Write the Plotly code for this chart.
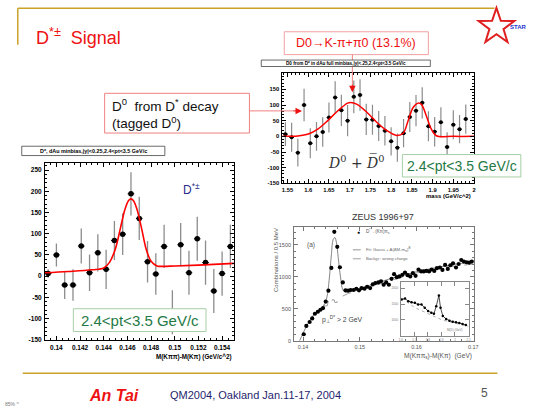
import math
import plotly.graph_objects as go

# ---------------- data ----------------
# D* (left plot)
ds_x = [0.1393, 0.1400, 0.1407, 0.1414, 0.1421, 0.1428, 0.1435, 0.1442, 0.1449, 0.1456, 0.1463, 0.1470,
        0.1477, 0.1484, 0.1491, 0.1498, 0.1505, 0.1512, 0.1519, 0.1526, 0.1533, 0.1540, 0.1547]
ds_y = [6, 50, -21, -21, 71, 8, 55, 16, 84, 99, 194, 136, 34, 5, 70, -85, 74, 8, 88, 32, -35, 6, 70]
ds_err = [10, 27, 33, 37, 41, 43, 44, 46, 46, 49, 51, 51, 49, 49, 51, 52, 51, 52, 52, 52, 52, 52, 51]
ds_fit_x = [0.13903, 0.1410, 0.1430, 0.1440, 0.1445, 0.1450, 0.1454, 0.1458, 0.1461, 0.1463, 0.1465,
            0.1468, 0.1472, 0.1476, 0.1480, 0.1485, 0.1490, 0.1500, 0.1520, 0.1550]
ds_fit_y = [8, 11, 15, 19, 33, 66, 112, 158, 178, 182, 178, 158, 112, 62, 35, 24, 23, 24, 26, 30]
ds_xticks = [0.14, 0.142, 0.144, 0.146, 0.148, 0.15, 0.152, 0.154]
ds_xticklabels = ["0.14", "0.142", "0.144", "0.146", "0.148", "0.15", "0.152", "0.154"]
ds_yticks = [-150, -100, -50, 0, 50, 100, 150, 200, 250]
ds_yticklabels = ["-150", "-100", "-50", "0", "50", "100", "150", "200", "250"]

# D0 (top right plot)
d0_x = [1.545, 1.56, 1.575, 1.59, 1.605, 1.62, 1.635, 1.65, 1.665, 1.68, 1.695, 1.71, 1.725, 1.74, 1.755,
        1.77, 1.785, 1.80, 1.815, 1.83, 1.845, 1.86, 1.875, 1.89, 1.905, 1.92, 1.935, 1.95, 1.965, 1.98]
d0_y = [7, -3, -52, 100, -22, 0, 14, 60, 124, 83, 50, 126, 132, 54, 53, 33, 18, -16, -36, 10, 62, 82,
        107, 32, 15, 45, -34, 37, 23, 55]
d0_err = [38, 46, 44, 52, 48, 46, 47, 48, 52, 50, 50, 52, 50, 50, 48, 48, 47, 45, 45, 45, 48, 50, 50,
          48, 47, 48, 47, 46, 45, 47]
d0_fit_x = [1.5375, 1.575, 1.59, 1.605, 1.623, 1.647, 1.671, 1.695, 1.702, 1.718, 1.742, 1.766, 1.79,
            1.8135, 1.829, 1.841, 1.853, 1.865, 1.873, 1.885, 1.897, 1.909, 1.95, 2.0]
d0_fit_y = [0, 1, 4, 10, 23, 50, 81, 106, 108, 102, 76, 44, 18, 3, 10, 50, 92, 106, 102, 65, 23, 2, 0, 0]
d0_xticks = [1.55, 1.6, 1.65, 1.7, 1.75, 1.8, 1.85, 1.9, 1.95, 2.0]
d0_xticklabels = ["1.55", "1.6", "1.65", "1.7", "1.75", "1.8", "1.85", "1.9", "1.95", "2"]
d0_yticks = [-150, -100, -50, 0, 50, 100, 150]
d0_yticklabels = ["-150", "-100", "-50", "0", "50", "100", "150"]

# ZEUS (bottom right plot)
zeus_x = [0.14012, 0.14058, 0.14116, 0.14162, 0.14209, 0.14261, 0.14307, 0.14353, 0.1440, 0.14447,
          0.14499, 0.14551, 0.14603, 0.14649, 0.14701, 0.14748, 0.14795, 0.1484, 0.14892, 0.14939,
          0.14986, 0.15031, 0.15083, 0.1513, 0.15183, 0.15229, 0.15275, 0.15327, 0.15374, 0.15421,
          0.15466, 0.15513, 0.1556, 0.15605, 0.15652, 0.15699, 0.15751, 0.15797, 0.15843, 0.1589,
          0.15936, 0.15983, 0.16035, 0.16082, 0.16127, 0.16174, 0.16221, 0.16266, 0.16313, 0.1636,
          0.16412, 0.16457, 0.16504, 0.16551, 0.16597, 0.16643, 0.16696, 0.16742, 0.16788, 0.16835,
          0.16882, 0.16927, 0.16974]
zeus_y = [102, 232, 294, 350, 423, 454, 485, 511, 613, 783, 1140, 1703, 1470, 1150, 913, 789, 783, 794,
          794, 814, 789, 825, 814, 845, 825, 882, 902, 913, 929, 876, 913, 876, 969, 1041, 995, 1006,
          1031, 1068, 1026, 1006, 1057, 1015, 1115, 1084, 1084, 1093, 1084, 1115, 1093, 1135, 1146,
          1108, 1186, 1124, 1181, 1212, 1146, 1201, 1263, 1238, 1228, 1223, 1238]
zfit_x = [0.1394, 0.1400, 0.1410, 0.1420, 0.1430, 0.1437, 0.1442, 0.1446, 0.1450, 0.1453, 0.1456,
          0.1459, 0.1462, 0.1466, 0.1470, 0.1475, 0.1480, 0.1500, 0.1550, 0.1600, 0.1650, 0.1700]
zfit_y = [0, 120, 290, 420, 500, 560, 680, 950, 1350, 1580, 1615, 1530, 1300, 1000, 800, 760, 770, 820,
          960, 1080, 1170, 1240]
zbg_x = [0.1436, 0.1440, 0.1443, 0.1444, 0.1447, 0.1447, 0.1450, 0.1451, 0.1455, 0.1456, 0.1460,
         0.1461, 0.1466, 0.1470, 0.1480, 0.1500, 0.1550, 0.1600, 0.1650, 0.1700]
zbg_y = [560, 545, 550, 610, 610, 570, 570, 640, 640, 600, 600, 680, 690, 700, 740, 790, 930, 1060,
         1150, 1200]
zeus_xticks = [0.14, 0.15, 0.16, 0.17]
zeus_xticklabels = ["0.14", "0.15", "0.16", "0.17"]
zeus_yticks = [0, 500, 1000, 1500]
zeus_yticklabels = ["0", "500", "1000", "1500"]

# ZEUS inset
ins_x = [1.607, 1.6315, 1.656, 1.68, 1.7045, 1.7285, 1.753, 1.777, 1.8015, 1.8255, 1.845, 1.862,
         1.8815, 1.8935, 1.9105, 1.935, 1.959, 1.9835, 2.0075, 2.032, 2.056, 2.0805]
ins_y = [1646, 1676, 1593, 1562, 1542, 1491, 1491, 1386, 1282, 1231, 1197, 1435, 1775, 1384, 1129,
         1027, 976, 942, 925, 908, 874, 840]
ins_bg_x = [1.607, 1.65, 1.70, 1.75, 1.80, 1.85, 1.90, 1.95, 2.0, 2.05, 2.1]
ins_bg_y = [1690, 1550, 1400, 1300, 1200, 1100, 1010, 950, 900, 850, 800]
ins_xticks = [1.6, 1.7, 1.8, 1.9, 2.0, 2.1]
ins_xticklabels = ["1.6", "1.7", "1.8", "1.9", "2", "2.1"]
ins_yticks = [1000, 1500, 2000]
ins_yticklabels = ["1000", "1500", "2000"]

# ---------------- layout helpers ----------------
W, H = 536, 410
def px(x):
    return x / W
def py(y):
    return 1 - y / H

SANS = "Liberation Sans, Arial, sans-serif"
RED = "#EE1111"
GREEN = "#1F7A45"
GOLD = "#C9A227"
GRAY_ERR = "#8C8C8C"

fig = go.Figure()

# D* plot
fig.add_trace(go.Scatter(
    x=ds_x, y=ds_y, mode="markers", xaxis="x", yaxis="y",
    marker=dict(color="black", size=5.5),
    error_y=dict(type="data", array=ds_err, color=GRAY_ERR, thickness=1.3, width=0),
    error_x=dict(type="constant", value=0.00028, color="black", thickness=1, width=0),
    showlegend=False))
fig.add_trace(go.Scatter(
    x=ds_fit_x, y=ds_fit_y, mode="lines", xaxis="x", yaxis="y", line_shape="spline",
    line=dict(color="red", width=1.6), showlegend=False))

# D0 plot
fig.add_trace(go.Scatter(
    x=d0_x, y=d0_y, mode="markers", xaxis="x2", yaxis="y2",
    marker=dict(color="black", size=4),
    error_y=dict(type="data", array=d0_err, color=GRAY_ERR, thickness=1.2, width=0),
    error_x=dict(type="constant", value=0.0055, color="black", thickness=1, width=0),
    showlegend=False))
fig.add_trace(go.Scatter(
    x=d0_fit_x, y=d0_fit_y, mode="lines", xaxis="x2", yaxis="y2", line_shape="spline",
    line=dict(color="red", width=1.5), showlegend=False))

# ZEUS plot
fig.add_trace(go.Scatter(
    x=zbg_x, y=zbg_y, mode="lines", xaxis="x3", yaxis="y3",
    line=dict(color="#888888", width=0.8, dash="dash"), showlegend=False))
fig.add_trace(go.Scatter(
    x=zfit_x, y=zfit_y, mode="lines", xaxis="x3", yaxis="y3", line_shape="spline",
    line=dict(color="#777777", width=0.9), showlegend=False))
fig.add_trace(go.Scatter(
    x=zeus_x, y=zeus_y, mode="markers", xaxis="x3", yaxis="y3",
    marker=dict(color="black", size=4.2), showlegend=False))

# Inset
fig.add_trace(go.Scatter(
    x=ins_bg_x, y=ins_bg_y, mode="lines", xaxis="x4", yaxis="y4",
    line=dict(color="#999999", width=0.8, dash="dot"), showlegend=False))
fig.add_trace(go.Scatter(
    x=ins_x, y=ins_y, mode="lines+markers", xaxis="x4", yaxis="y4",
    line=dict(color="black", width=0.7), marker=dict(color="black", size=2.5), showlegend=False))


def root_axes(size=6.5, color="black", bold=True, linecolor="black", minor_dtick=None):
    d = dict(showline=True, linecolor=linecolor, linewidth=1, mirror="allticks",
             ticks="inside", ticklen=4, tickcolor=linecolor, tickwidth=1,
             showgrid=False, zeroline=False, tickmode="array", ticklabelstandoff=1,
             tickfont=dict(family=SANS, size=size, color=color, weight=700 if bold else 400))
    if minor_dtick is not None:
        d["minor"] = dict(ticks="inside", ticklen=2, tickcolor=linecolor, dtick=minor_dtick, showgrid=False)
    return d


fig.update_layout(
    width=W, height=H, margin=dict(l=0, r=0, t=0, b=0),
    paper_bgcolor="white", plot_bgcolor="rgba(0,0,0,0)",
    xaxis=dict(domain=[px(43.5), px(235)], range=[0.13903, 0.155], anchor="y",
               tickvals=ds_xticks, ticktext=ds_xticklabels,
               **root_axes(size=6.5, minor_dtick=0.0005)),
    yaxis=dict(domain=[py(342.3), py(164.3)], range=[-150, 266.4], anchor="x",
               tickvals=ds_yticks, ticktext=ds_yticklabels,
               **root_axes(size=6.5, minor_dtick=10)),
    xaxis2=dict(domain=[px(284), px(478.3)], range=[1.5375, 2.0], anchor="y2",
                tickvals=d0_xticks, ticktext=d0_xticklabels,
                **root_axes(size=5.8, minor_dtick=0.01)),
    yaxis2=dict(domain=[py(184.7), py(74)], range=[-150, 200.7], anchor="x2",
                tickvals=d0_yticks, ticktext=d0_yticklabels,
                **root_axes(size=5.8, minor_dtick=10)),
    xaxis3=dict(domain=[px(296), px(478.3)], range=[0.13843, 0.17014], anchor="y3",
                tickvals=zeus_xticks, ticktext=zeus_xticklabels,
                **root_axes(size=5.5, color="#555555", bold=False, linecolor="#777777", minor_dtick=0.002)),
    yaxis3=dict(domain=[py(343.3), py(228.3)], range=[0, 1785], anchor="x3",
                tickvals=zeus_yticks, ticktext=zeus_yticklabels,
                **root_axes(size=5.5, color="#555555", bold=False, linecolor="#777777", minor_dtick=100)),
    xaxis4=dict(domain=[px(404), px(472.7)], range=[1.6, 2.1], anchor="y4",
                tickvals=ins_xticks, ticktext=ins_xticklabels,
                **root_axes(size=3, color="#777777", bold=False, linecolor="#888888")),
    yaxis4=dict(domain=[py(338.3), py(284)], range=[500, 2200], anchor="x4",
                tickvals=ins_yticks, ticktext=ins_yticklabels,
                **root_axes(size=3, color="#777777", bold=False, linecolor="#888888")),
)

shapes = []
def line(x0, y0, x1, y1, color, width=1, dash=None, layer="above"):
    ld = dict(color=color, width=width)
    if dash:
        ld["dash"] = dash
    shapes.append(dict(type="line", xref="paper", yref="paper", x0=px(x0), y0=py(y0), x1=px(x1), y1=py(y1),
                       line=ld, layer=layer))
def rect(x0, y0, x1, y1, color, width=1, fill="white", layer="above"):
    shapes.append(dict(type="rect", xref="paper", yref="paper", x0=px(x0), y0=py(y0), x1=px(x1), y1=py(y1),
                       line=dict(color=color, width=width), fillcolor=fill, layer=layer))

# slide frame lines
line(16, 8.3, 499, 8.3, GOLD, 1.5)
line(16, 8.3, 16, 45, GOLD, 1.5)
line(21, 376, 502, 376, GOLD, 1.5)

# star
cx, cy, ro, ri = 501, 27, 19, 7.5
pts = []
for k in range(10):
    ang = math.pi / 2 + k * math.pi / 5
    r = ro if k % 2 == 0 else ri
    pts.append((cx + r * math.cos(ang), cy - r * math.sin(ang)))
path = "M " + " L ".join(f"{px(a):.5f},{py(b):.5f}" for a, b in pts) + " Z"
shapes.append(dict(type="path", xref="paper", yref="paper", path=path,
                   line=dict(color="#E02020", width=2), fillcolor="white", layer="above"))

# callout boxes
rect(286, 32, 432, 55, "#F2A0A0", 1)
line(355, 55, 355, 86, "#F08080", 1)
rect(104, 94, 250.7, 134, "#F08080", 1)
line(250.7, 111.7, 296, 111.7, "#F08080", 1)

# ROOT title boxes
rect(20, 147.3, 165, 156.7, "#444444", 0.8)
rect(262.7, 60.5, 434, 67, "#444444", 0.8)

# green pt boxes
rect(72.3, 311, 206.7, 334, "#A6CFA6", 1)
rect(405.7, 155.7, 525.7, 178.3, "#A6CFA6", 1)

# ZEUS legend samples
line(355.5, 251.7, 363.5, 251.7, "#777777", 0.8)
line(355.5, 260.7, 363.5, 260.7, "#888888", 0.8, dash="dash")

fig.update_layout(shapes=shapes)

ann = []
def text(x, y, s, size, color="black", xanchor="left", yanchor="middle", family=SANS, bold=False,
         italic=False, angle=0, align="left"):
    ann.append(dict(x=px(x), y=py(y), xref="paper", yref="paper", text=s, showarrow=False,
                    xanchor=xanchor, yanchor=yanchor, textangle=angle, align=align,
                    font=dict(size=size, color=color, family=family, weight=700 if bold else 400,
                              style="italic" if italic else "normal")))

def arrow(x, y, dx, dy, color):
    # dx, dy: pixel offset of the tail relative to the head
    ann.append(dict(x=px(x), y=py(y), xref="paper", yref="paper", ax=dx, ay=dy,
                    text="", showarrow=True, arrowhead=2,
                    arrowsize=1.3, arrowwidth=1, arrowcolor=color))

# Title
text(32, 37, "D<sup>*±</sup>  Signal", 18, RED)
# star label
text(513, 27, "STAR", 6, "#2233CC", bold=True)

# callouts
text(359, 43.5, "D0→K-π+π0 (13.1%)", 12.5, RED, xanchor="center", align="center")
arrow(355, 93, 0, -9, RED)
text(109, 114, "D<sup>0</sup>  from D<sup>*</sup> decay<br>(tagged D<sup>0</sup>)", 13.5, "#111111")
arrow(304, 111.7, -10, 0, RED)

# ROOT titles
text(92.5, 152, "D*, dAu minbias,|y|<0.25,2.4<pt<3.5 GeV/c", 5.4, "black", xanchor="center", bold=True)
text(348.3, 63.8, "D0 from D* in dAu full minbias,|y|<.25,2.4<pt<3.5 GeV/c", 4.6, "black",
     xanchor="center", bold=True)

# D* plot labels
text(181, 190, "D<sup>*±</sup>", 12, "#2B2B8C")
text(139.5, 322.7, "2.4<pt<3.5 GeV/c", 15, GREEN, xanchor="center")
text(235, 359.5, "M(Kππ)-M(Kπ) (GeV/c^2)", 6.3, "black", xanchor="right", bold=True)

# D0 plot labels
text(359, 163, "<i>D</i><sup>0</sup> + <i>D\u0305</i><sup>0</sup>", 14, "#333333", xanchor="center",
     family="DejaVu Serif, Liberation Serif, serif")
text(465.7, 167, "2.4<pt<3.5 GeV/c", 14, GREEN, xanchor="center")
text(477.5, 197.5, "mass (GeV/c^2)", 6, "black", xanchor="right", bold=True)

# ZEUS labels
text(386, 219, "ZEUS 1996+97", 9, "#333333", xanchor="center")
text(277.5, 262, "Combinations / 0.5 MeV", 6, "#555555", xanchor="center", angle=-90)
text(307, 246.7, "(a)", 6.5, "#555555")
text(361.5, 233.8, "●", 5, "black", xanchor="center")
text(367, 233.3, "D<sup>*</sup>→(Kπ)π<sub>s</sub>", 4.6, "#555555")
text(367, 251.7, "Fit: Gauss + A(ΔM-m<sub>π</sub>)<sup>B</sup>", 4.2, "#666666")
text(367, 260.7, "Backgr.: wrong charge", 4.2, "#666666")
text(322, 321.5, "p<sub>⊥</sub><sup>D*</sup> > 2 GeV", 6.8, "#444444")
text(478, 359, "M(Kππ<sub>s</sub>)-M(Kπ)  (GeV)", 6.6, "#555555", xanchor="right")
text(469, 332, "M(D) (GeV)", 3, "#777777", xanchor="right")

# footer
text(86, 398, "An Tai", 16, RED, bold=True, italic=True)
text(168, 398, "QM2004, Oakland Jan.11-17, 2004", 11, "#1F1F6E")
text(489, 396, "5", 12, "#555555", xanchor="center")
text(1, 406.5, "85% ^", 5, "#777777")

fig.update_layout(annotations=ann)

fig.write_html("out.html")
